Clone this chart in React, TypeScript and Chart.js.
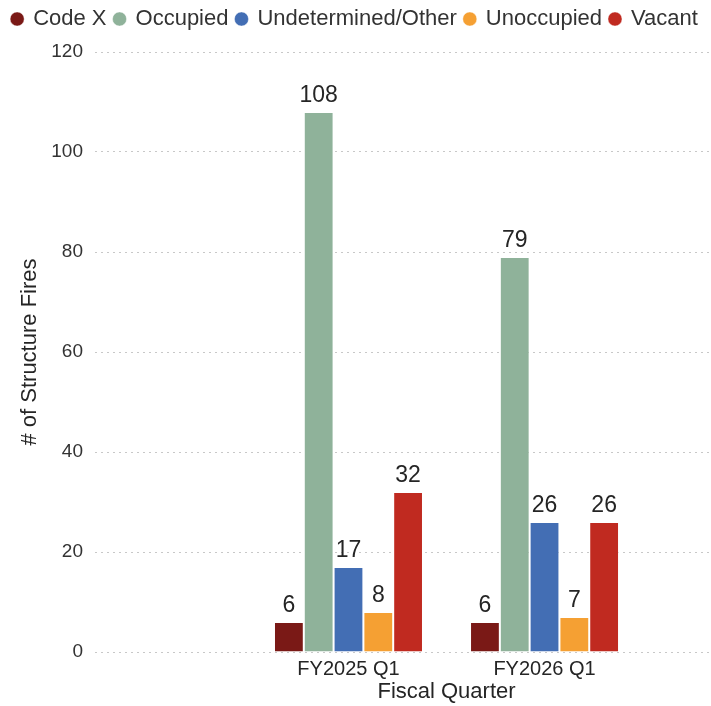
import React, { useEffect, useRef } from "react";
import { Chart, registerables } from "chart.js";

Chart.register(...registerables);

const categories = ["FY2025 Q1", "FY2026 Q1"];
const seriesNames = ["Code X", "Occupied", "Undetermined/Other", "Unoccupied", "Vacant"];
const codeX = [6, 6];
const occupied = [108, 79];
const undetermined = [17, 26];
const unoccupied = [8, 7];
const vacant = [32, 26];
const colors = ["#7A1916", "#8FB29A", "#436EB4", "#F5A033", "#C02A20"];
const yTicks = [0, 20, 40, 60, 80, 100, 120];

const FONT = "'Liberation Sans', Arial, sans-serif";

const legendSpacer = {
  id: "legendSpacer",
  beforeInit(chart: any) {
    const orig = chart.legend.fit;
    chart.legend.fit = function fit() {
      orig.bind(chart.legend)();
      this.height += 12;
    };
  },
};

const labelPlugin = {
  id: "valueLabels",
  afterDatasetsDraw(chart: any) {
    const ctx = chart.ctx;
    ctx.save();
    ctx.font = `23px ${FONT}`;
    ctx.fillStyle = "#252525";
    ctx.textAlign = "center";
    ctx.textBaseline = "alphabetic";
    chart.data.datasets.forEach((ds: any, i: number) => {
      const meta = chart.getDatasetMeta(i);
      meta.data.forEach((bar: any, j: number) => {
        const v = ds.data[j].y;
        ctx.fillText(String(v), bar.x, bar.y - 10);
      });
    });
    // x axis title centred on the data groups
    const xs = chart.scales.x;
    ctx.font = `22px ${FONT}`;
    ctx.fillStyle = "#252525";
    ctx.textBaseline = "middle";
    ctx.fillText("Fiscal Quarter", xs.getPixelForValue(1.5), 692);
    ctx.restore();
  },
};

export default function App() {
  const ref = useRef<HTMLCanvasElement | null>(null);
  useEffect(() => {
    document.body.style.margin = "0";
    const all = [codeX, occupied, undetermined, unoccupied, vacant];
    const chart = new Chart(ref.current as HTMLCanvasElement, {
      type: "bar",
      data: {
        datasets: all.map((arr, i) => ({
          label: seriesNames[i],
          data: arr.map((v, j) => ({ x: j + 1, y: v })),
          backgroundColor: colors[i],
          borderColor: "rgba(255,255,255,0.45)",
          borderWidth: 1,
          categoryPercentage: 0.76,
          barPercentage: 1,
        })),
      },
      options: {
        animation: false,
        responsive: false,
        maintainAspectRatio: false,
        layout: { padding: { top: 0, right: 1, left: 0, bottom: 0 } },
        plugins: {
          tooltip: { enabled: false },
          legend: {
            position: "top",
            labels: {
              usePointStyle: true,
              pointStyle: "circle",
              boxWidth: 10,
              boxHeight: 10,
              padding: 8,
              color: "#333",
              font: { family: FONT, size: 22 },
            },
          },
        },
        scales: {
          x: {
            type: "linear",
            offset: false,
            min: -0.293,
            max: 2.844,
            grid: { display: false },
            border: { display: false },
            afterBuildTicks: (s: any) => {
              s.ticks = categories.map((_, i) => ({ value: i + 1 }));
            },
            afterFit: (s: any) => {
              s.height = 54;
            },
            ticks: {
              color: "#252525",
              font: { family: FONT, size: 20 },
              padding: -3,
              maxRotation: 0,
              autoSkip: false,
              callback: (v: any) => categories[Number(v) - 1] ?? "",
            },
          },
          y: {
            min: 0,
            max: 120,
            afterBuildTicks: (s: any) => {
              s.ticks = yTicks.map((v) => ({ value: v }));
            },
            afterFit: (s: any) => {
              s.width = 95;
            },
            grid: {
              color: "#c8c8c8",
              lineWidth: 1,
              drawTicks: false,
            },
            border: { display: false, dash: [2, 4] },
            ticks: {
              color: "#333",
              font: { family: FONT, size: 19 },
              padding: 12,
            },
            title: {
              display: true,
              text: "# of Structure Fires",
              color: "#252525",
              font: { family: FONT, size: 22 },
              padding: { top: 17, bottom: 0 },
            },
          },
        },
      },
      plugins: [legendSpacer, labelPlugin],
    });
    return () => chart.destroy();
  }, []);
  return (
    <div style={{ width: 711, height: 706 }}>
      <canvas ref={ref} width={711} height={706} style={{ display: "block" }} />
    </div>
  );
}
